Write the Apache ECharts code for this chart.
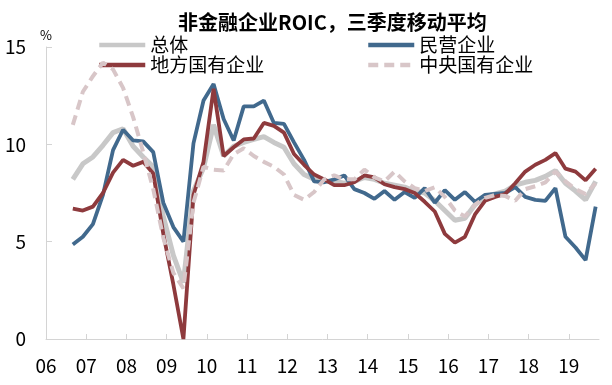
<!DOCTYPE html>
<html><head><meta charset="utf-8">
<script src="https://cdn.jsdelivr.net/npm/echarts@6/dist/echarts.min.js"></script>
<style>html,body{margin:0;padding:0;background:#fff}#c{width:612px;height:385px}</style>
</head><body><div id="c"></div>
<script>
const quarters = [
  '2006Q3','2006Q4',
  '2007Q1','2007Q2','2007Q3','2007Q4',
  '2008Q1','2008Q2','2008Q3','2008Q4',
  '2009Q1','2009Q2','2009Q3','2009Q4',
  '2010Q1','2010Q2','2010Q3','2010Q4',
  '2011Q1','2011Q2','2011Q3','2011Q4',
  '2012Q1','2012Q2','2012Q3','2012Q4',
  '2013Q1','2013Q2','2013Q3','2013Q4',
  '2014Q1','2014Q2','2014Q3','2014Q4',
  '2015Q1','2015Q2','2015Q3','2015Q4',
  '2016Q1','2016Q2','2016Q3','2016Q4',
  '2017Q1','2017Q2','2017Q3','2017Q4',
  '2018Q1','2018Q2','2018Q3','2018Q4',
  '2019Q1','2019Q2','2019Q3'
];
const yearTicks = [2006,2007,2008,2009,2010,2011,2012,2013,2014,2015,2016,2017,2018,2019];
const seriesNames = ['总体','民营企业','地方国有企业','中央国有企业'];

const total = [8.2,9.0,9.35,9.95,10.6,10.8,9.9,9.35,8.85,6.3,4.3,2.9,
  7.6,8.8,11.0,9.4,9.9,10.1,10.25,10.4,10.1,9.85,9.0,8.45,8.2,8.1,
  8.1,8.0,8.1,8.3,8.2,8.0,7.9,7.8,7.6,7.5,7.1,6.6,
  6.1,6.2,6.9,7.3,7.45,7.6,7.9,8.05,8.15,8.35,8.65,8.0,7.6,7.15,8.1];
const privateEnt = [4.85,5.25,5.9,7.4,9.7,10.75,10.2,10.15,9.6,7.0,5.75,5.0,
  10.05,12.25,13.1,11.3,10.2,11.95,11.95,12.25,11.1,11.05,10.1,9.2,8.1,8.05,
  8.2,8.4,7.7,7.5,7.2,7.6,7.15,7.55,7.25,7.75,7.0,7.65,
  7.15,7.55,7.05,7.4,7.45,7.5,7.8,7.3,7.15,7.1,7.75,5.25,4.7,4.05,6.8];
const localSOE = [6.7,6.6,6.8,7.5,8.55,9.2,8.9,9.1,8.5,5.4,2.8,0,
  7.4,9.1,12.85,9.4,9.85,10.25,10.3,11.1,10.95,10.6,9.5,8.95,8.45,8.2,
  7.9,7.9,8.05,8.4,8.3,7.95,7.8,7.7,7.5,7.05,6.55,5.4,
  4.95,5.25,6.4,7.1,7.3,7.45,8.0,8.6,8.95,9.2,9.55,8.75,8.6,8.15,8.75];
const centralSOE = [11.0,12.7,13.5,14.2,13.85,12.9,11.4,9.6,7.7,5.2,3.4,2.6,
  7.0,8.85,8.7,8.65,9.5,9.8,9.4,9.1,8.85,8.45,7.4,7.15,7.55,8.2,
  8.4,8.2,8.2,8.7,8.3,8.1,8.6,8.1,7.75,7.6,7.8,7.3,
  6.6,6.3,6.9,7.25,7.4,7.35,7.1,7.7,7.85,8.05,8.6,8.1,7.7,7.45,8.0];

function qToX(q){ const y = +q.slice(0,4), n = +q.slice(5); return y + (3*n - 1)/12; }
const pts = arr => arr.map((v,i) => [qToX(quarters[i]), v]);

const FF = '"Noto Sans CJK SC", "Noto Sans", sans-serif';
const axisGray = '#d4d4d4';
const legendBase = {
  orient: 'vertical', top: 35, padding: 0,
  itemWidth: 46, itemHeight: 12, itemGap: 0,
  itemStyle: {color: 'rgba(0,0,0,0)', borderWidth: 0, opacity: 0},
  lineStyle: {width: 4.5},
  textStyle: {fontSize: 19, lineHeight: 20, color: '#000', fontFamily: FF}
};

const chart = echarts.init(document.getElementById('c'), null, {renderer:'canvas'});
chart.setOption({
  animation: false,
  backgroundColor: '#fff',
  title: {
    text: '非金融企业ROIC，三季度移动平均',
    left: 178, top: 12, padding: 0,
    textStyle: {fontSize: 20, fontWeight: 'bold', color: '#000', fontFamily: FF}
  },
  legend: [
    Object.assign({}, legendBase, {data: [seriesNames[0], seriesNames[2]], left: 97}),
    Object.assign({}, legendBase, {data: [seriesNames[1], seriesNames[3]], left: 366})
  ],
  grid: {left: 46, right: 13, top: 47, bottom: 46, containLabel: false},
  xAxis: {
    type: 'value', min: 2006, max: 2019.75, interval: 1,
    axisLine: {show: true, lineStyle: {color: axisGray, width: 1}},
    axisTick: {show: true, inside: true, length: 5, lineStyle: {color: axisGray}, customValues: yearTicks},
    axisLabel: {customValues: yearTicks, margin: 17, fontSize: 19, color: '#000', fontFamily: FF,
      formatter: v => Number.isInteger(v) ? String(v).slice(2) : ''},
    splitLine: {show: false}
  },
  yAxis: {
    type: 'value', min: 0, max: 15, interval: 5,
    name: '%', nameLocation: 'end', nameGap: 5,
    nameTextStyle: {fontSize: 13, color: '#000', fontFamily: FF, align: 'center'},
    axisLine: {show: true, lineStyle: {color: axisGray, width: 1}},
    axisTick: {show: true, inside: true, length: 6, lineStyle: {color: axisGray}},
    axisLabel: {margin: 20, fontSize: 19, color: '#000', fontFamily: FF},
    splitLine: {show: false}
  },
  series: [
    {name: seriesNames[0], type: 'line', data: pts(total), symbol: 'none', z: 2,
     lineStyle: {color: '#c8c8c8', width: 5}, itemStyle: {color: '#c8c8c8'}},
    {name: seriesNames[1], type: 'line', data: pts(privateEnt), symbol: 'none', z: 3,
     lineStyle: {color: '#41698d', width: 3.8}, itemStyle: {color: '#41698d'}},
    {name: seriesNames[2], type: 'line', data: pts(localSOE), symbol: 'none', z: 4,
     lineStyle: {color: '#8e3a3d', width: 3.8}, itemStyle: {color: '#8e3a3d'}},
    {name: seriesNames[3], type: 'line', data: pts(centralSOE), symbol: 'none', z: 5,
     lineStyle: {color: '#d8c6c8', width: 4, type: [10, 6]}, itemStyle: {color: '#d8c6c8'}}
  ]
});
</script></body></html>
